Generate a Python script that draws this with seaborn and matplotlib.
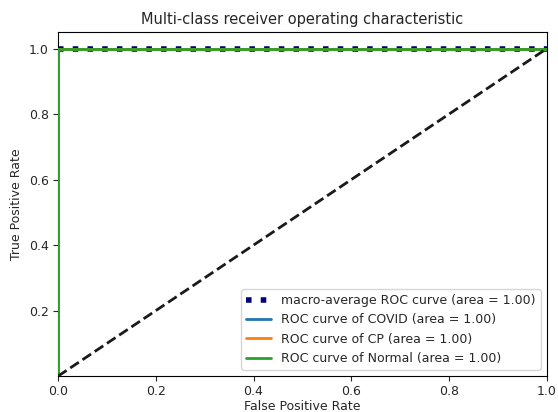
import numpy as np
import pandas as pd
import seaborn as sns
import matplotlib
matplotlib.use("Agg")
import matplotlib.pyplot as plt

# ROC points (perfect classifiers)
classes = ["COVID", "CP", "Normal"]
class_aucs = [1.00, 1.00, 1.00]
class_fpr = [[0.0, 0.0, 1.0], [0.0, 0.0, 1.0], [0.0, 0.0, 1.0]]
class_tpr = [[0.0, 1.0, 1.0], [0.0, 1.0, 1.0], [0.0, 1.0, 1.0]]
macro_fpr = [0.0, 1.0]
macro_tpr = [1.0, 1.0]
macro_auc = 1.00
chance = [0.0, 1.0]
class_colors = ["tab:blue", "tab:orange", "tab:green"]

sns.set_theme(style="ticks")
plt.rcParams["font.family"] = ["DejaVu Sans"]
plt.rcParams["font.size"] = 9

fig, ax = plt.subplots(figsize=(5.58, 4.12), dpi=100)
fig.subplots_adjust(left=0.104, right=0.980, bottom=0.087, top=0.922)

sns.lineplot(x=macro_fpr, y=macro_tpr, ax=ax, color="navy", linestyle=":", linewidth=4,
             label="macro-average ROC curve (area = {0:0.2f})".format(macro_auc),
             sort=False, estimator=None)

# class curves sit over the left spine, as in the reference
for name, fpr, tpr, auc, col in zip(classes, class_fpr, class_tpr, class_aucs, class_colors):
    sns.lineplot(x=fpr, y=tpr, ax=ax, color=col, linewidth=2, zorder=3,
                 label="ROC curve of {0} (area = {1:0.2f})".format(name, auc),
                 sort=False, estimator=None)

ax.plot(chance, chance, "k--", lw=2, zorder=3)

ax.set_xlim([0.0, 1.0])
ax.set_ylim([0.0, 1.05])
ax.set_xticks([0.0, 0.2, 0.4, 0.6, 0.8, 1.0])
ax.set_yticks([0.2, 0.4, 0.6, 0.8, 1.0])
ax.tick_params(labelsize=9, length=3.5, width=0.8, pad=3)
for s in ax.spines.values():
    s.set_linewidth(0.8)
    s.set_color("black")
ax.set_xlabel("False Positive Rate", fontsize=9, labelpad=1)
ax.set_ylabel("True Positive Rate", fontsize=9)
ax.set_title("Multi-class receiver operating characteristic", fontsize=10.5)
ax.legend(loc="lower right", fontsize=9)

fig.savefig("out.png", dpi=100)
